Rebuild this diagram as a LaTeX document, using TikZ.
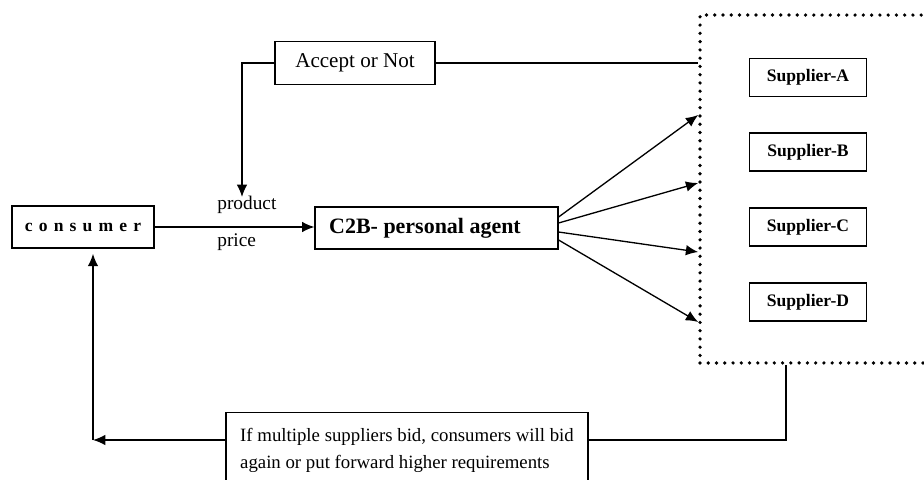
\documentclass[tikz,border=0pt]{standalone}
\usepackage{fontspec}
\setmainfont{Liberation Serif}
\usetikzlibrary{arrows.meta}

\tikzset{
	box/.style={draw,line width=0.7pt,inner sep=0pt,align=center},
	supplier/.style={box,minimum width=2.34cm,minimum height=0.76cm,font=\bfseries\fontsize{10}{12}\selectfont},
	arr/.style={-{Latex[length=7pt,width=6pt]},line width=0.75pt},
	link/.style={line width=0.75pt},
	dots/.style={line width=2.1pt,line cap=round,dash pattern=on 0pt off 4.7pt}
}

\begin{document}
\begin{tikzpicture}[x=0.02cm,y=-0.02cm]
	\useasboundingbox (0,0) rectangle (924,480);
	\clip (0,0) rectangle (924,480);
	% main boxes
	\node[box,minimum width=2.84cm,minimum height=0.84cm,font=\bfseries\fontsize{10}{12}\selectfont] (consumer) at (83,227) {\spaceskip=3.5pt c o n s u m e r};
	\node[box,minimum width=4.86cm,minimum height=0.84cm,font=\bfseries\fontsize{12.5}{15}\selectfont] (c2b) at (436.5,228) {C2B- personal agent\hspace*{0.46cm}};
	\node[box,minimum width=3.2cm,minimum height=0.86cm,font=\fontsize{12}{14}\selectfont] (accept) at (355,63) {Accept or Not};
	\node[box,anchor=north,minimum width=7.24cm,inner ysep=0.32cm,align=left,
		font=\fontsize{10.7}{15}\selectfont] (feedback) at (407,412)
		{If multiple suppliers bid, consumers will bid\\again or put forward higher requirements};
	% supplier side
	\node[draw,dots,minimum width=6cm,minimum height=6.96cm] (market) at (850,189) {};
	\foreach \name/\y in {A/77.5,B/152,C/227,D/302}
		\node[supplier] (sup\name) at (808,\y) {Supplier-\name};
	% labels
	\node[anchor=west,inner sep=0pt,font=\fontsize{11}{13}\selectfont] (product) at (217,205) {product};
	\node[anchor=west,inner sep=0pt,font=\fontsize{11}{13}\selectfont] (price) at (217,242) {price};
	% connectors
	\coordinate (tip) at (242,197);
	\coordinate (drop) at (786,440);
	\coordinate (turn) at (93,440);
	\draw[arr] (consumer.east) -- (consumer.east -| c2b.west);
	\draw[arr] (accept.west) -| (tip);
	\draw[link] (accept.east) -- (accept.east -| market.west);
	\foreach \ys/\ye in {217/115,223/183,232/252,240/322}
		\draw[arr] (c2b.east |- 0,\ys) -- (market.west |- 0,\ye);
	\draw[link] (market.south -| drop) -- (drop) -- (drop -| feedback.east);
	\draw[arr] (feedback.west |- turn) -- (turn);
	\draw[arr,shorten >=3pt] (turn) -- (turn |- consumer.south);
\end{tikzpicture}
\end{document}
